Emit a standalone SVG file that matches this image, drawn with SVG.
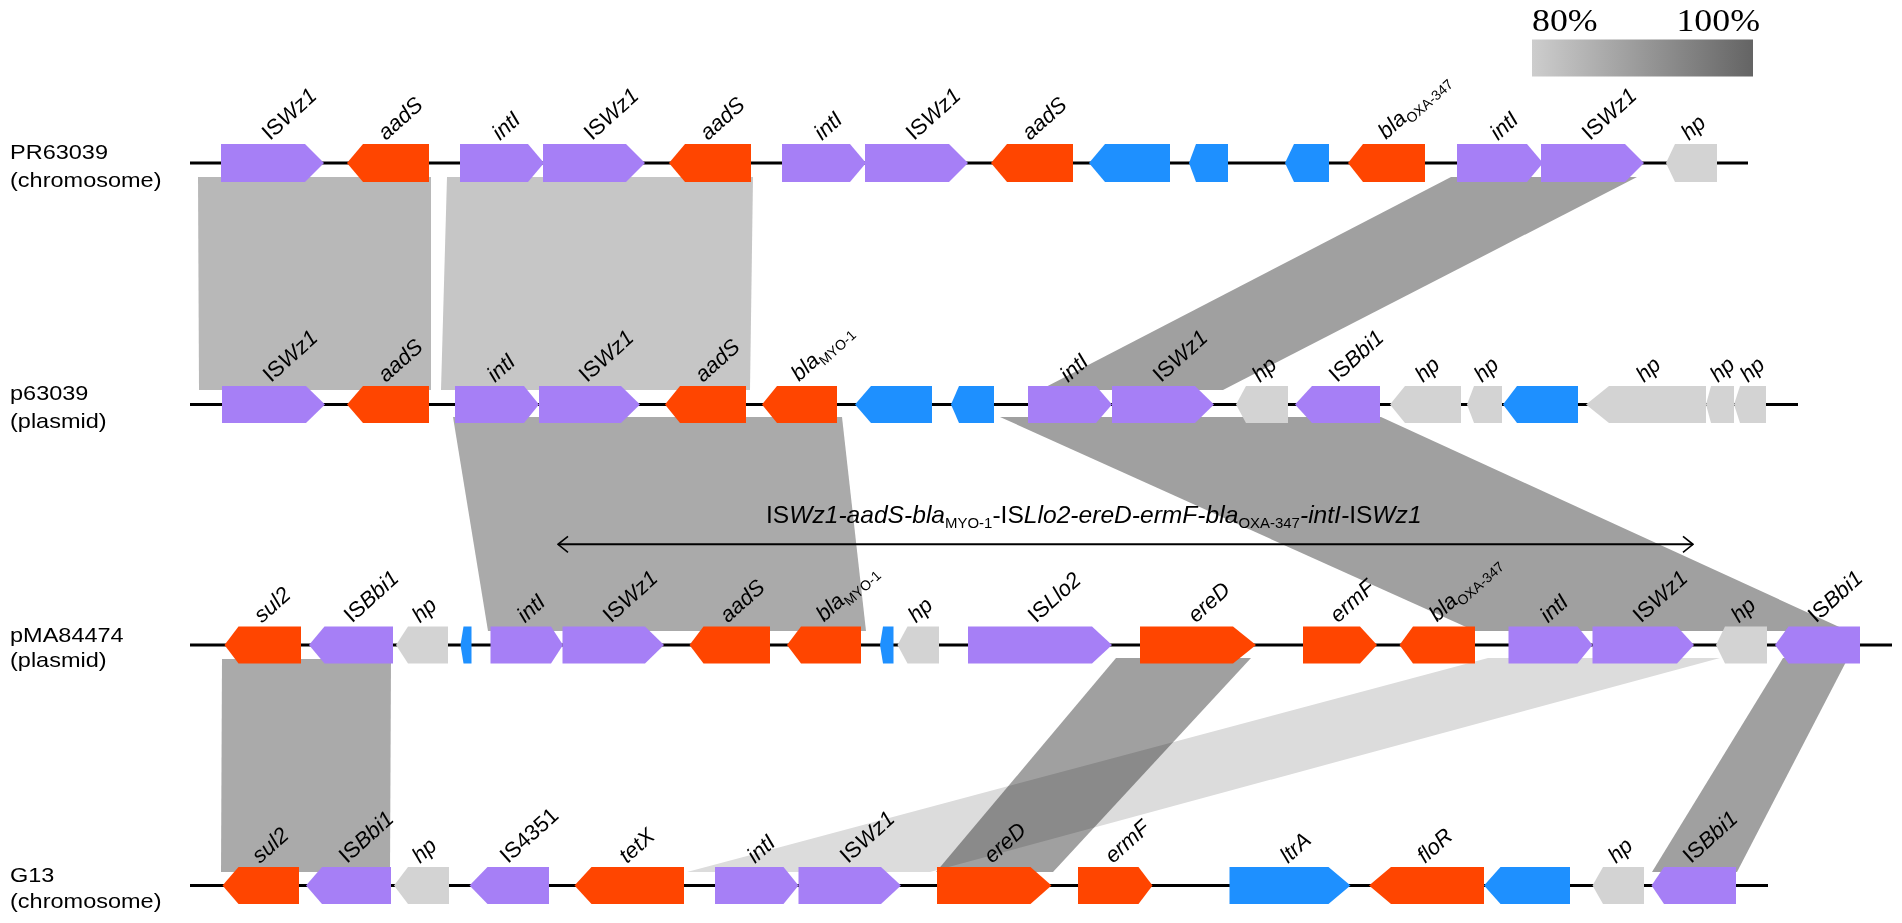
<svg xmlns="http://www.w3.org/2000/svg" width="1902" height="923" viewBox="0 0 1902 923">
<defs>
<style>
.p{fill:#a67ff6}.r{fill:#ff4500}.b{fill:#1e90ff}.g{fill:#d3d3d3}
.l{font-family:"Liberation Sans",Arial,sans-serif;font-size:22px;fill:#000}
.i{font-style:italic}
.s{font-size:14px;font-style:normal}
.bb{stroke:#000;stroke-width:3}
.nm{font-family:"Liberation Sans",Arial,sans-serif;font-size:21px;fill:#000}
.rg{font-family:"Liberation Sans",Arial,sans-serif;font-size:23px;fill:#000}
.rs{font-size:14px;font-style:normal}
.lg{font-family:"Liberation Serif","Times New Roman",serif;font-size:32px;fill:#000}
.band{stroke:none}
</style>
<linearGradient id="grad" x1="0" y1="0" x2="1" y2="0">
<stop offset="0" stop-color="#cdcdcd"/>
<stop offset="1" stop-color="#646464"/>
</linearGradient>
<marker id="arr" viewBox="0 0 12 18" refX="11" refY="9" markerWidth="12" markerHeight="18" markerUnits="userSpaceOnUse" orient="auto-start-reverse">
<path d="M1,1 L11,9 L1,17" fill="none" stroke="#000" stroke-width="1.6"/>
</marker>
</defs>
<rect width="1902" height="923" fill="#fff"/>

<g id="connectors">
<polygon class="band" fill="#b8b8b8" points="198,177 431,177 431,390 199,390"/>
<polygon class="band" fill="#c6c6c6" points="447,177 753,177 750,390 441,390"/>
<polygon class="band" fill="#a0a0a0" points="1451,177 1637,177 1223,390 1040,390"/>
<polygon class="band" fill="#aaaaaa" points="453,417 842,417 866,631 488,631"/>
<polygon class="band" fill="#a0a0a0" points="1000,417 1381,417 1848,631 1475,631"/>
<polygon class="band" fill="#aaaaaa" points="222,659 391,659 390,872 221,872"/>
<polygon class="band" fill="#a0a0a0" points="1116,658 1251,658 1053,872 936,872"/>
<polygon class="band" fill="#dcdcdc" style="mix-blend-mode:multiply" points="1488,658 1720,658 930,872 687,872"/>
<polygon class="band" fill="#a0a0a0" points="1783,658 1848,658 1737,872 1652,872"/>
</g>

<g id="region">
<line x1="558" y1="544.3" x2="1693" y2="544.3" stroke="#000" stroke-width="2" marker-start="url(#arr)" marker-end="url(#arr)"/>
<text class="rg" transform="translate(766,523) scale(1.07,1)"><tspan>IS</tspan><tspan class="i">Wz1-aadS-bla</tspan><tspan class="rs" dy="5">MYO-1</tspan><tspan dy="-5">-IS</tspan><tspan class="i">Llo2-ereD-ermF-bla</tspan><tspan class="rs" dy="5">OXA-347</tspan><tspan class="i" dy="-5">-intI-</tspan><tspan>IS</tspan><tspan class="i">Wz1</tspan></text>
</g>

<g id="legend">
<rect x="1532" y="39.5" width="221" height="37" fill="url(#grad)"/>
<text class="lg" transform="translate(1532,31) scale(1.12,1)">80%</text>
<text class="lg" text-anchor="end" transform="translate(1760,31) scale(1.12,1)">100%</text>
</g>

<g id="backbones">
<line class="bb" x1="190" y1="163" x2="1748" y2="163"/>
<line class="bb" x1="190" y1="404.5" x2="1798" y2="404.5"/>
<line class="bb" x1="190" y1="645" x2="1892" y2="645"/>
<line class="bb" x1="190" y1="885.5" x2="1768" y2="885.5"/>
</g>

<g id="names">
<text class="nm" transform="translate(10,159) scale(1.12,1)">PR63039</text>
<text class="nm" transform="translate(10,187) scale(1.12,1)">(chromosome)</text>
<text class="nm" transform="translate(10,400) scale(1.12,1)">p63039</text>
<text class="nm" transform="translate(10,428) scale(1.12,1)">(plasmid)</text>
<text class="nm" transform="translate(10,641.5) scale(1.12,1)">pMA84474</text>
<text class="nm" transform="translate(10,667) scale(1.12,1)">(plasmid)</text>
<text class="nm" transform="translate(10,882) scale(1.12,1)">G13</text>
<text class="nm" transform="translate(10,908) scale(1.12,1)">(chromosome)</text>
</g>

<!-- Row 1 PR63039 -->
<g id="r1g1"><polygon class="p" points="221,144 305,144 324,163 305,182 221,182"/><text class="l" transform="translate(270,141) rotate(-42)">IS<tspan class="i">Wz1</tspan></text></g>
<g id="r1g2"><polygon class="r" points="347,163 363,144 429,144 429,182 363,182"/><text class="l i" transform="translate(386,141) rotate(-42)">aadS</text></g>
<g id="r1g3"><polygon class="p" points="460,144 528,144 544,163 528,182 460,182"/><text class="l i" transform="translate(500,141) rotate(-42)">intI</text></g>
<g id="r1g4"><polygon class="p" points="543,144 626,144 645,163 626,182 543,182"/><text class="l" transform="translate(592,141) rotate(-42)">IS<tspan class="i">Wz1</tspan></text></g>
<g id="r1g5"><polygon class="r" points="669,163 685,144 751,144 751,182 685,182"/><text class="l i" transform="translate(708,141) rotate(-42)">aadS</text></g>
<g id="r1g6"><polygon class="p" points="782,144 850,144 866,163 850,182 782,182"/><text class="l i" transform="translate(822,141) rotate(-42)">intI</text></g>
<g id="r1g7"><polygon class="p" points="865,144 949,144 968,163 949,182 865,182"/><text class="l" transform="translate(914,141) rotate(-42)">IS<tspan class="i">Wz1</tspan></text></g>
<g id="r1g8"><polygon class="r" points="991,163 1007,144 1073,144 1073,182 1007,182"/><text class="l i" transform="translate(1030,141) rotate(-42)">aadS</text></g>
<g id="r1g9"><polygon class="b" points="1089,163 1105,144 1170,144 1170,182 1105,182"/></g>
<g id="r1g10"><polygon class="b" points="1189,163 1196,144 1228,144 1228,182 1196,182"/></g>
<g id="r1g11"><polygon class="b" points="1285,163 1294,144 1329,144 1329,182 1294,182"/></g>
<g id="r1g12"><polygon class="r" points="1348,163 1363,144 1425,144 1425,182 1363,182"/><text class="l" transform="translate(1386,140) rotate(-42)"><tspan class="i">bla</tspan><tspan class="s" dy="5">OXA-347</tspan></text></g>
<g id="r1g13"><polygon class="p" points="1457,144 1527,144 1543,163 1527,182 1457,182"/><text class="l i" transform="translate(1498,141) rotate(-42)">intI</text></g>
<g id="r1g14"><polygon class="p" points="1541,144 1625,144 1644,163 1625,182 1541,182"/><text class="l" transform="translate(1590,141) rotate(-42)">IS<tspan class="i">Wz1</tspan></text></g>
<g id="r1g15"><polygon class="g" points="1666,163 1675,144 1717,144 1717,182 1675,182"/><text class="l i" transform="translate(1689,141) rotate(-42)">hp</text></g>

<!-- Row 2 p63039 -->
<g id="r2g1"><polygon class="p" points="222,386 306,386 325,404.5 306,423 222,423"/><text class="l" transform="translate(271,383) rotate(-42)">IS<tspan class="i">Wz1</tspan></text></g>
<g id="r2g2"><polygon class="r" points="347,404.5 363,386 429,386 429,423 363,423"/><text class="l i" transform="translate(386,383) rotate(-42)">aadS</text></g>
<g id="r2g3"><polygon class="p" points="455,386 524,386 539,404.5 524,423 455,423"/><text class="l i" transform="translate(495,383) rotate(-42)">intI</text></g>
<g id="r2g4"><polygon class="p" points="539,386 621,386 640,404.5 621,423 539,423"/><text class="l" transform="translate(587,383) rotate(-42)">IS<tspan class="i">Wz1</tspan></text></g>
<g id="r2g5"><polygon class="r" points="665,404.5 680,386 746,386 746,423 680,423"/><text class="l i" transform="translate(703,383) rotate(-42)">aadS</text></g>
<g id="r2g6"><polygon class="r" points="762,404.5 777,386 837,386 837,423 777,423"/><text class="l" transform="translate(799,382) rotate(-42)"><tspan class="i">bla</tspan><tspan class="s" dy="5">MYO-1</tspan></text></g>
<g id="r2g7"><polygon class="b" points="855,404.5 871,386 932,386 932,423 871,423"/></g>
<g id="r2g8"><polygon class="b" points="951,404.5 959,386 994,386 994,423 959,423"/></g>
<g id="r2g9"><polygon class="p" points="1028,386 1096,386 1112,404.5 1096,423 1028,423"/><text class="l i" transform="translate(1068,383) rotate(-42)">intI</text></g>
<g id="r2g10"><polygon class="p" points="1112,386 1195,386 1214,404.5 1195,423 1112,423"/><text class="l" transform="translate(1161,383) rotate(-42)">IS<tspan class="i">Wz1</tspan></text></g>
<g id="r2g11"><polygon class="g" points="1236,404.5 1246,386 1288,386 1288,423 1246,423"/><text class="l i" transform="translate(1260,383) rotate(-42)">hp</text></g>
<g id="r2g12"><polygon class="p" points="1295,404.5 1312,386 1380,386 1380,423 1312,423"/><text class="l" transform="translate(1337,383) rotate(-42)">IS<tspan class="i">Bbi1</tspan></text></g>
<g id="r2g13"><polygon class="g" points="1390,404.5 1405,386 1461,386 1461,423 1405,423"/><text class="l i" transform="translate(1423,383) rotate(-42)">hp</text></g>
<g id="r2g14"><polygon class="g" points="1467,404.5 1474,386 1502,386 1502,423 1474,423"/><text class="l i" transform="translate(1482,383) rotate(-42)">hp</text></g>
<g id="r2g15"><polygon class="b" points="1503,404.5 1517,386 1578,386 1578,423 1517,423"/></g>
<g id="r2g16"><polygon class="g" points="1586,404.5 1609,386 1706,386 1706,423 1609,423"/><text class="l i" transform="translate(1644,383) rotate(-42)">hp</text></g>
<g id="r2g17"><polygon class="g" points="1706,404.5 1711,386 1734,386 1734,423 1711,423"/><text class="l i" transform="translate(1718,383) rotate(-42)">hp</text></g>
<g id="r2g18"><polygon class="g" points="1734,404.5 1740,386 1766,386 1766,423 1740,423"/><text class="l i" transform="translate(1748,383) rotate(-42)">hp</text></g>

<!-- Row 3 pMA84474 -->
<g id="r3g1"><polygon class="r" points="224.5,645 238.5,626.5 301,626.5 301,663.5 238.5,663.5"/><text class="l i" transform="translate(262,623.5) rotate(-42)">sul2</text></g>
<g id="r3g2"><polygon class="p" points="309,645 324.5,626.5 393,626.5 393,663.5 324.5,663.5"/><text class="l" transform="translate(352,623.5) rotate(-42)">IS<tspan class="i">Bbi1</tspan></text></g>
<g id="r3g3"><polygon class="g" points="396,645 408,626.5 448,626.5 448,663.5 408,663.5"/><text class="l i" transform="translate(420,623.5) rotate(-42)">hp</text></g>
<g id="r3g4"><polygon class="b" points="460.5,645 463.5,626.5 471.5,626.5 471.5,663.5 463.5,663.5"/></g>
<g id="r3g5"><polygon class="p" points="490.5,626.5 551,626.5 563,645 551,663.5 490.5,663.5"/><text class="l i" transform="translate(525,623.5) rotate(-42)">intI</text></g>
<g id="r3g6"><polygon class="p" points="562.5,626.5 645,626.5 664,645 645,663.5 562.5,663.5"/><text class="l" transform="translate(611,623.5) rotate(-42)">IS<tspan class="i">Wz1</tspan></text></g>
<g id="r3g7"><polygon class="r" points="689.5,645 703.5,626.5 770,626.5 770,663.5 703.5,663.5"/><text class="l i" transform="translate(728,623.5) rotate(-42)">aadS</text></g>
<g id="r3g8"><polygon class="r" points="787,645 801,626.5 861,626.5 861,663.5 801,663.5"/><text class="l" transform="translate(824,622.5) rotate(-42)"><tspan class="i">bla</tspan><tspan class="s" dy="5">MYO-1</tspan></text></g>
<g id="r3g9"><polygon class="b" points="880,645 883,626.5 893.5,626.5 893.5,663.5 883,663.5"/></g>
<g id="r3g10"><polygon class="g" points="897.5,645 907.5,626.5 939,626.5 939,663.5 907.5,663.5"/><text class="l i" transform="translate(916,623.5) rotate(-42)">hp</text></g>
<g id="r3g11"><polygon class="p" points="968,626.5 1092,626.5 1112,645 1092,663.5 968,663.5"/><text class="l" transform="translate(1036,623.5) rotate(-42)">IS<tspan class="i">Llo2</tspan></text></g>
<g id="r3g12"><polygon class="r" points="1140,626.5 1233,626.5 1256,645 1233,663.5 1140,663.5"/><text class="l i" transform="translate(1196,623.5) rotate(-42)">ereD</text></g>
<g id="r3g13"><polygon class="r" points="1303,626.5 1360,626.5 1377,645 1360,663.5 1303,663.5"/><text class="l i" transform="translate(1338,623.5) rotate(-42)">ermF</text></g>
<g id="r3g14"><polygon class="r" points="1399.5,645 1413,626.5 1475,626.5 1475,663.5 1413,663.5"/><text class="l" transform="translate(1437,622.5) rotate(-42)"><tspan class="i">bla</tspan><tspan class="s" dy="5">OXA-347</tspan></text></g>
<g id="r3g15"><polygon class="p" points="1508.5,626.5 1577.5,626.5 1592.5,645 1577.5,663.5 1508.5,663.5"/><text class="l i" transform="translate(1548,623.5) rotate(-42)">intI</text></g>
<g id="r3g16"><polygon class="p" points="1592.5,626.5 1677,626.5 1694,645 1677,663.5 1592.5,663.5"/><text class="l" transform="translate(1641,623.5) rotate(-42)">IS<tspan class="i">Wz1</tspan></text></g>
<g id="r3g17"><polygon class="g" points="1716,645 1725,626.5 1767,626.5 1767,663.5 1725,663.5"/><text class="l i" transform="translate(1739,623.5) rotate(-42)">hp</text></g>
<g id="r3g18"><polygon class="p" points="1775,645 1788.5,626.5 1860,626.5 1860,663.5 1788.5,663.5"/><text class="l" transform="translate(1816,623.5) rotate(-42)">IS<tspan class="i">Bbi1</tspan></text></g>

<!-- Row 4 G13 -->
<g id="r4g1"><polygon class="r" points="222.5,885.5 238.5,867 299,867 299,904 238.5,904"/><text class="l i" transform="translate(260,864) rotate(-42)">sul2</text></g>
<g id="r4g2"><polygon class="p" points="306,885.5 322,867 391,867 391,904 322,904"/><text class="l" transform="translate(347,864) rotate(-42)">IS<tspan class="i">Bbi1</tspan></text></g>
<g id="r4g3"><polygon class="g" points="394,885.5 408,867 449,867 449,904 408,904"/><text class="l i" transform="translate(420,864) rotate(-42)">hp</text></g>
<g id="r4g4"><polygon class="p" points="469.5,885.5 487.5,867 549,867 549,904 487.5,904"/><text class="l" transform="translate(508,864) rotate(-42)">IS4351</text></g>
<g id="r4g5"><polygon class="r" points="574.5,885.5 591.5,867 684,867 684,904 591.5,904"/><text class="l i" transform="translate(627,864) rotate(-42)">tetX</text></g>
<g id="r4g6"><polygon class="p" points="715,867 783.5,867 798.5,885.5 783.5,904 715,904"/><text class="l i" transform="translate(755,864) rotate(-42)">intI</text></g>
<g id="r4g7"><polygon class="p" points="798.5,867 881,867 901,885.5 881,904 798.5,904"/><text class="l" transform="translate(848,864) rotate(-42)">IS<tspan class="i">Wz1</tspan></text></g>
<g id="r4g8"><polygon class="r" points="937,867 1030.5,867 1051.5,885.5 1030.5,904 937,904"/><text class="l i" transform="translate(992,864) rotate(-42)">ereD</text></g>
<g id="r4g9"><polygon class="r" points="1078,867 1138.5,867 1152.5,885.5 1138.5,904 1078,904"/><text class="l i" transform="translate(1113,864) rotate(-42)">ermF</text></g>
<g id="r4g10"><polygon class="b" points="1229.5,867 1328.5,867 1350.5,885.5 1328.5,904 1229.5,904"/><text class="l i" transform="translate(1288,864) rotate(-42)">ltrA</text></g>
<g id="r4g11"><polygon class="r" points="1369,885.5 1391,867 1484,867 1484,904 1391,904"/><text class="l i" transform="translate(1425,864) rotate(-42)">floR</text></g>
<g id="r4g12"><polygon class="b" points="1484,885.5 1500.5,867 1570,867 1570,904 1500.5,904"/></g>
<g id="r4g13"><polygon class="g" points="1592.5,885.5 1603,867 1644,867 1644,904 1603,904"/><text class="l i" transform="translate(1616,864) rotate(-42)">hp</text></g>
<g id="r4g14"><polygon class="p" points="1651.5,885.5 1664,867 1736,867 1736,904 1664,904"/><text class="l" transform="translate(1691,864) rotate(-42)">IS<tspan class="i">Bbi1</tspan></text></g>
</svg>
